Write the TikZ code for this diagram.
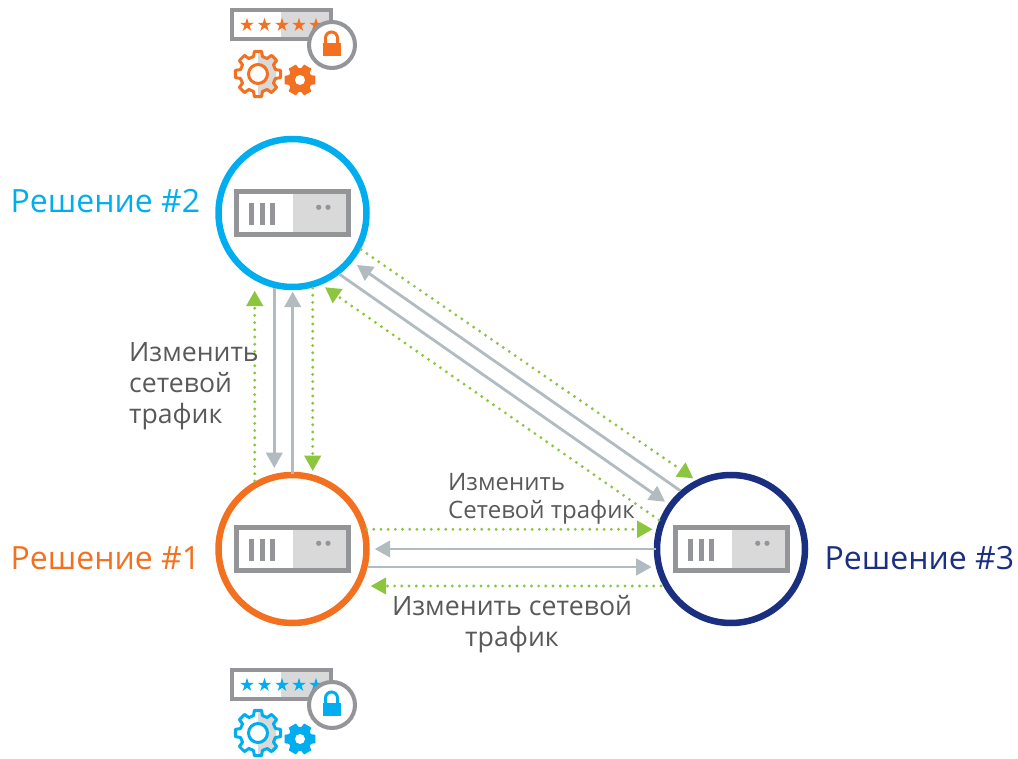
\documentclass[tikz,border=0pt]{standalone}
\usepackage{fontspec}
\setmainfont{Open Sans}
\usetikzlibrary{arrows.meta,shapes.geometric,calc}
\definecolor{cyanc}{HTML}{00AEEF}
\definecolor{orangec}{HTML}{F37021}
\definecolor{navyc}{HTML}{1B2F80}
\definecolor{framec}{HTML}{939598}
\definecolor{panelc}{HTML}{D9D9D9}
\definecolor{linkc}{HTML}{B1BBC0}
\definecolor{dotc}{HTML}{8CC63F}
\definecolor{labelc}{HTML}{58595B}
\tikzset{
  sol/.style={circle,draw=#1,line width=6.5pt,fill=white,minimum size=148pt,inner sep=0pt},
  grayarrow/.style={draw=linkc,line width=2.8pt,-{Triangle[length=15.5pt,width=16.5pt]}},
  greenarrow/.style={draw=dotc,line width=3.2pt,line cap=round,dash pattern=on 0pt off 7.2pt,
    -{Triangle[length=15.5pt,width=16.5pt,fill=dotc,sep=0pt]}},
  title/.style={font=\fontsize{32}{38}\selectfont,anchor=base west,inner sep=0pt},
  lab/.style={text=labelc,inner sep=0pt,anchor=base west},
}
\newcommand{\serverbox}[2]{%
  \begin{scope}[shift={(#1,#2)}]
    \fill[white] (-58.5,-24) rectangle (58.5,24);
    \fill[panelc] (0,-24) rectangle (58.5,24);
    \draw[framec,line width=5pt] (-56,-21.5) rectangle (56,21.5);
    \fill[framec] (-43.5,-10.3) rectangle (-38.3,11.7);
    \fill[framec] (-33,-10.3) rectangle (-27.8,11.7);
    \fill[framec] (-22.5,-10.3) rectangle (-17.3,11.7);
    \fill[framec] (26.2,-5.7) circle (2.6);
    \fill[framec] (35.5,-5.7) circle (2.6);
  \end{scope}}
\newcommand{\gearline}[5]{% inner, outer, teeth, step, half-width
  (#4*0-#5*1.6:#1) \foreach \gi in {1,...,#3}{
    -- ({#4*\gi-#4-#5*1.6}:#1) -- ({#4*\gi-#4-#5}:#2) -- ({#4*\gi-#4+#5}:#2) -- ({#4*\gi-#4+#5*1.6}:#1)
  } -- cycle}
\newcommand{\iconset}[3]{% y offset, colour, gear offset
  \begin{scope}[shift={(0,#1)}]
    \fill[white] (230,8) rectangle (281,41);
    \fill[panelc] (281,8) rectangle (333,41);
    \draw[framec,line width=4.5pt] (232.2,10.2) rectangle (330.8,38.8);
    \foreach \sx/\sn in {247/a,264.5/b,282/c,299/d,316/e}
      \node[star,star points=5,star point ratio=2.7,fill=#2,inner sep=0pt,minimum size=14.5pt] (st#1\sn) at (\sx,25) {};
    \draw[framec,line width=4pt,fill=white] (332,45) circle (23);
    \draw[#2,line width=3pt] (325.5,43) -- (325.5,38) arc[start angle=180,end angle=360,radius=6] -- (337.5,43);
    \fill[#2] (322.7,42.7) rectangle (341,56);
    \begin{scope}[shift={(258,#3+74)}]
      \begin{scope}
        \clip (0,-30) rectangle (18,30);
        \fill[panelc] \gearline{18}{23}{8}{45}{9};
      \end{scope}
      \draw[#2,line width=3pt,line join=round] \gearline{18}{23}{8}{45}{9};
      \draw[#2,line width=3pt,fill=white] (0,0) circle (9.5);
    \end{scope}
    \begin{scope}[shift={(300,#3+80)}]
      \fill[#2,line join=round] \gearline{12}{16}{6}{60}{15};
      \fill[white] (0,0) circle (5);
    \end{scope}
  \end{scope}}
\begin{document}
\begin{tikzpicture}[x=1pt,y=-1pt]
\useasboundingbox (0,0) rectangle (1018,759);
\node[sol=cyanc] (s2) at (292.5,213) {};
\node[sol=orangec] (s1) at (292.5,549) {};
\node[sol=navyc] (s3) at (731,549) {};
\serverbox{292.5}{213}
\serverbox{292.5}{549}
\serverbox{731.5}{549}
% vertical links
\draw[grayarrow] ($(s2)+(-18.2,75)$) -- ($(s1)+(-18.2,-81)$);
\draw[grayarrow] ($(s1)+(0.2,-75)$) -- ($(s2)+(0.2,78.7)$);
\draw[greenarrow] ($(s1)+(-37.8,-68)$) -- ($(s2)+(-37.8,77.7)$);
\draw[greenarrow] ($(s2)+(20.2,75)$) -- ($(s1)+(20.2,-78)$);
% horizontal links
\draw[greenarrow] ($(s1)+(74,-19.7)$) -- ($(s3)+(-78.3,-19.7)$);
\draw[grayarrow] ($(s3)+(-75,0)$) -- ($(s1)+(82.2,0)$);
\draw[grayarrow] ($(s1)+(75,18)$) -- ($(s3)+(-79.3,18)$);
\draw[greenarrow] ($(s3)+(-70,37)$) -- ($(s1)+(78.2,37)$);
% diagonal links
\draw[greenarrow] ($(s2)+(68.5,36.5)$) -- ($(s3)+(-37.7,-70.7)$);
\draw[grayarrow] ($(s3)+(-50.7,-58.3)$) -- ($(s2)+(64.5,52)$);
\draw[grayarrow] ($(s2)+(47,61.3)$) -- ($(s3)+(-66,-47.3)$);
\draw[greenarrow] ($(s3)+(-72,-29)$) -- ($(s2)+(32.5,74.3)$);
% titles
\node[title,text=cyanc] (t2) at (10.5,213) {Решение \#2};
\node[title,text=orangec] (t1) at (10.5,569) {Решение \#1};
\node[title,text=navyc] (t3) at (824.5,569) {Решение \#3};
% labels
\node[lab,font=\fontsize{26.6}{31}\selectfont] (l1a) at (129,362) {Изменить};
\node[lab,font=\fontsize{26.6}{31}\selectfont] (l1b) at (129,393) {сетевой};
\node[lab,font=\fontsize{26.6}{31}\selectfont] (l1c) at (129,424) {трафик};
\node[lab,font=\fontsize{24}{28}\selectfont] (l2a) at (448,490) {Изменить};
\node[lab,font=\fontsize{24}{28}\selectfont] (l2b) at (448,518) {Сетевой трафик};
\node[lab,font=\fontsize{26.7}{31}\selectfont,anchor=base] (l3a) at (512,615) {Изменить сетевой};
\node[lab,font=\fontsize{26.7}{31}\selectfont,anchor=base] (l3b) at (512,646) {трафик};
% icons
\iconset{0}{orangec}{0}
\iconset{660}{cyanc}{-1}
\end{tikzpicture}
\end{document}
